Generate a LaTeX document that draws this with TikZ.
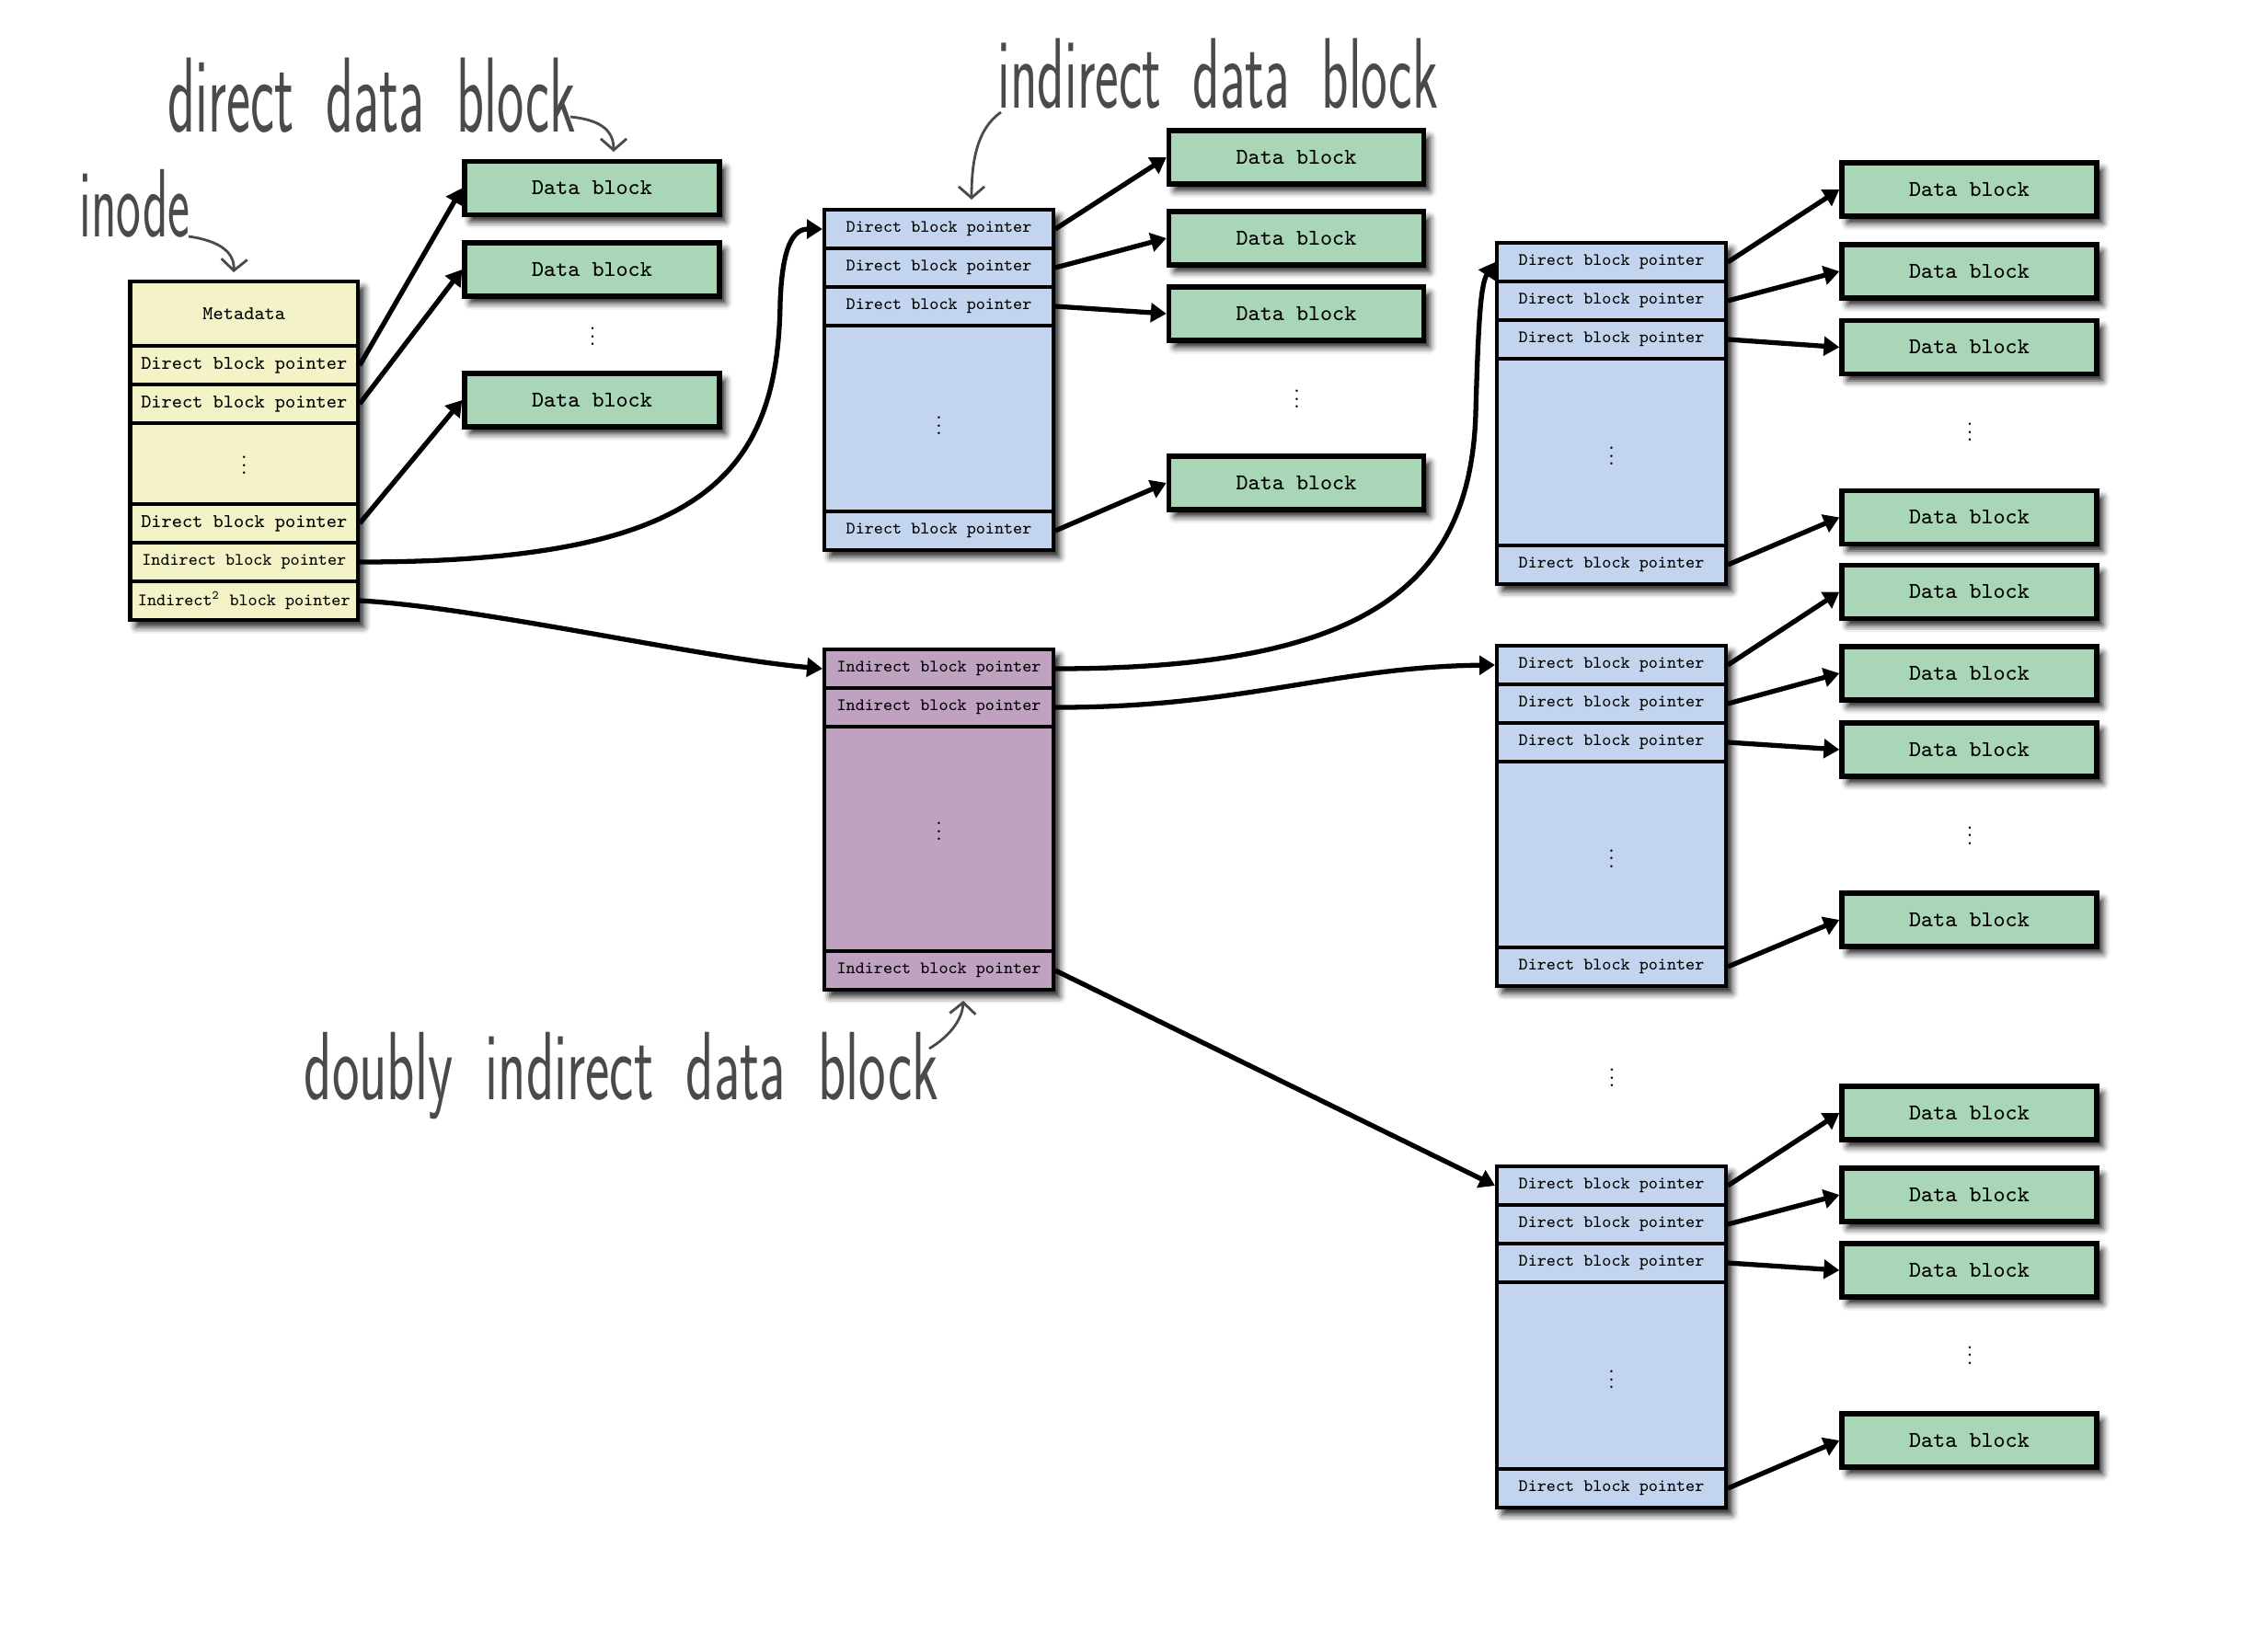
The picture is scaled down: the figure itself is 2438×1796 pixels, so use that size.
\documentclass[tikz,border=0pt]{standalone}
\usetikzlibrary{arrows.meta,shadows.blur}
\definecolor{dgreen}{HTML}{A9D6B6}
\definecolor{iyellow}{HTML}{F3F3C7}
\definecolor{pblue}{HTML}{C3D4EE}
\definecolor{ppurple}{HTML}{BFA2BF}
\definecolor{handgray}{HTML}{4A4A4A}
\newcommand{\mydots}{\vbox{\baselineskip=2.4pt\lineskiplimit=-5pt\hbox{.}\hbox{.}\hbox{.}}}
\newcommand{\ws}{\hspace{0.25em}}
\tikzset{
  shad/.style={blur shadow={shadow xshift=1.8pt, shadow yshift=-2.1pt, shadow blur radius=2.1pt, shadow opacity=90}},
  datab/.style={draw=black, line width=1.5pt, fill=dgreen, minimum width=2.77cm, minimum height=0.58cm, inner sep=0pt, font=\ttfamily\fontsize{7}{8}\selectfont, shad},
  boxbg/.style={draw=black, line width=1.2pt, minimum width=2.49cm, inner sep=0pt, shad},
  cell/.style={draw=black, line width=1.1pt, minimum width=2.49cm, minimum height=0.42cm, inner sep=0pt, font=\ttfamily\fontsize{5.4}{6}\selectfont},
  icell/.style={cell, minimum width=2.474cm},
  big/.style={font=\ttfamily\fontsize{6}{7}\selectfont},
  dotsn/.style={inner sep=0pt, font=\fontsize{6}{7}\selectfont},
  link/.style={line width=1.5pt, -{Triangle[length=4.8pt,width=5.8pt]}},
  note/.style={draw=handgray, line width=0.8pt, -{Straight Barb[length=3.5pt,width=8pt]}},
  hand/.style={anchor=base west, inner sep=0pt, text=handgray, font=\sffamily\fontsize{33}{33}\selectfont},
}
\begin{document}
\begin{tikzpicture}[x=0.01cm, y=-0.01cm]
\useasboundingbox (0,0) rectangle (2438,1796);

% ---------------- inode ----------------
\node[boxbg, fill=iyellow, minimum width=2.474cm, minimum height=3.68cm] (inodebg) at (265.3,490) {};
\node[icell, big, minimum height=0.70cm] (i0) at (265.3,341) {Metadata};
\node[icell, big] (i1) at (265.3,397) {Direct block pointer};
\node[icell, big] (i2) at (265.3,439) {Direct block pointer};
\node[icell, minimum height=0.88cm] (idots) at (265.3,504) {};
\node[dotsn] (idt) at (265.3,506) {\mydots};
\node[icell, big] (i3) at (265.3,569) {Direct block pointer};
\node[icell] (i4) at (265.3,611) {Indirect block pointer};
\node[icell] (i5) at (265.3,653) {Indirect\textsuperscript{2} block pointer};

% direct data blocks
\node[datab] (d1) at (643.5,204.5) {Data block};
\node[datab] (d2) at (643.5,293) {Data block};
\node[dotsn] (dd) at (644,366) {\mydots};
\node[datab] (d3) at (643.5,435) {Data block};

% ---------------- indirect block ----------------
\node[boxbg, fill=pblue, minimum height=3.70cm] (indbg) at (1020.5,413) {};
\node[cell] (n1) at (1020.5,249) {Direct block pointer};
\node[cell] (n2) at (1020.5,291) {Direct block pointer};
\node[cell] (n3) at (1020.5,333) {Direct block pointer};
\node[cell, minimum height=2.02cm] (ndots) at (1020.5,455) {};
\node[dotsn] (ndt) at (1020.5,463) {\mydots};
\node[cell] (n4) at (1020.5,577) {Direct block pointer};

\node[datab] (m1) at (1409,171) {Data block};
\node[datab] (m2) at (1409,259) {Data block};
\node[datab] (m3) at (1409,341) {Data block};
\node[dotsn] (md) at (1409.7,434) {\mydots};
\node[datab] (m4) at (1409,525) {Data block};

% ---------------- doubly indirect block ----------------
\node[boxbg, fill=ppurple, minimum height=3.70cm] (dblbg) at (1020.5,891) {};
\node[cell] (p1) at (1020.5,727) {Indirect block pointer};
\node[cell] (p2) at (1020.5,769) {Indirect block pointer};
\node[cell, minimum height=2.44cm] (pdots) at (1020.5,912) {};
\node[dotsn] (pdt) at (1020.5,904) {\mydots};
\node[cell] (p3) at (1020.5,1055) {Indirect block pointer};

% ---------------- right column blocks ----------------
% box A
\node[boxbg, fill=pblue, minimum height=3.71cm] (abg) at (1751.5,449.5) {};
\node[cell] (a1) at (1751.5,285) {Direct block pointer};
\node[cell] (a2) at (1751.5,327) {Direct block pointer};
\node[cell] (a3) at (1751.5,369) {Direct block pointer};
\node[cell, minimum height=2.03cm] (adots) at (1751.5,491.5) {};
\node[dotsn] (adt) at (1751.5,496) {\mydots};
\node[cell] (a4) at (1751.5,614) {Direct block pointer};
% box B
\node[boxbg, fill=pblue, minimum height=3.70cm] (bbg) at (1751.5,887) {};
\node[cell] (b1) at (1751.5,723) {Direct block pointer};
\node[cell] (b2) at (1751.5,765) {Direct block pointer};
\node[cell] (b3) at (1751.5,807) {Direct block pointer};
\node[cell, minimum height=2.02cm] (bdots) at (1751.5,929) {};
\node[dotsn] (bdt) at (1751.5,933.6) {\mydots};
\node[cell] (b4) at (1751.5,1051) {Direct block pointer};
% between B and C
\node[dotsn] (bcdots) at (1752,1172) {\mydots};
% box C
\node[boxbg, fill=pblue, minimum height=3.71cm] (cbg) at (1751.5,1453.5) {};
\node[cell] (c1) at (1751.5,1289) {Direct block pointer};
\node[cell] (c2) at (1751.5,1331) {Direct block pointer};
\node[cell] (c3) at (1751.5,1373) {Direct block pointer};
\node[cell, minimum height=2.03cm] (cdots) at (1751.5,1495.5) {};
\node[dotsn] (cdt) at (1751.5,1500) {\mydots};
\node[cell] (c4) at (1751.5,1618) {Direct block pointer};

% right data blocks
\node[datab] (ra1) at (2140.5,206) {Data block};
\node[datab] (ra2) at (2140.5,295) {Data block};
\node[datab] (ra3) at (2140.5,377.5) {Data block};
\node[dotsn] (rad) at (2141,470) {\mydots};
\node[datab] (ra4) at (2140.5,562.5) {Data block};

\node[datab] (rb1) at (2140.5,643.5) {Data block};
\node[datab] (rb2) at (2140.5,732) {Data block};
\node[datab] (rb3) at (2140.5,815) {Data block};
\node[dotsn] (rbd) at (2141,908.7) {\mydots};
\node[datab] (rb4) at (2140.5,1000) {Data block};

\node[datab] (rc1) at (2140.5,1210) {Data block};
\node[datab] (rc2) at (2140.5,1299) {Data block};
\node[datab] (rc3) at (2140.5,1381) {Data block};
\node[dotsn] (rcd) at (2141,1473.5) {\mydots};
\node[datab] (rc4) at (2140.5,1566) {Data block};

% ---------------- connectors ----------------
\draw[link] (i1.east) -- (d1.west);
\draw[link] (i2.east) -- (d2.west);
\draw[link] (i3.east) -- (d3.west);
\draw[link] (i4.east) .. controls (760,611) and (845,520) .. (848,330) .. controls (850,268) and (862,249) .. (n1.west);
\draw[link] (i5.east) .. controls (520,660) and (760,715) .. (p1.west);

\draw[link] (n1.east) -- (m1.west);
\draw[link] (n2.east) -- (m2.west);
\draw[link] (n3.east) -- (m3.west);
\draw[link] (n4.east) -- (m4.west);

\draw[link] (p1.east) .. controls (1480,727) and (1598,640) .. (1604,450) .. controls (1607,340) and (1610,308) .. (a1.west);
\draw[link] (p2.east) .. controls (1350,769.5) and (1450,725) .. (b1.west);
\draw[link] (p3.east) -- (c1.west);

\draw[link] (a1.east) -- (ra1.west);
\draw[link] (a2.east) -- (ra2.west);
\draw[link] (a3.east) -- (ra3.west);
\draw[link] (a4.east) -- (ra4.west);
\draw[link] (b1.east) -- (rb1.west);
\draw[link] (b2.east) -- (rb2.west);
\draw[link] (b3.east) -- (rb3.west);
\draw[link] (b4.east) -- (rb4.west);
\draw[link] (c1.east) -- (rc1.west);
\draw[link] (c2.east) -- (rc2.west);
\draw[link] (c3.east) -- (rc3.west);
\draw[link] (c4.east) -- (rc4.west);

% ---------------- handwritten labels ----------------
\node[hand, font=\sffamily\fontsize{30}{30}\selectfont] (linode) at (86,257) {\scalebox{0.54}[1]{inode}};
\node[hand] (ldirect) at (182,143) {\scalebox{0.535}[1]{direct \ws data \ws block}};
\node[hand, font=\sffamily\fontsize{31}{31}\selectfont] (lindirect) at (1084,117) {\scalebox{0.56}[1]{indirect \ws data \ws block}};
\node[hand, font=\sffamily\fontsize{30}{30}\selectfont] (ldoubly) at (330,1195) {\scalebox{0.595}[1]{doubly \ws indirect \ws data \ws block}};

\coordinate (s1) at (205,257);
\coordinate (t1) at (254,296);
\coordinate (s2) at (620,127);
\coordinate (t2) at (667,165);
\coordinate (s3) at (1088,122);
\coordinate (t3) at (1056,217);
\coordinate (s4) at (1010,1140);
\coordinate (t4) at (1047,1088);
\draw[note] (s1) .. controls (240,262) and (255,275) .. (t1);
\draw[note] (s2) .. controls (650,130) and (667,140) .. (t2);
\draw[note] (s3) .. controls (1062,140) and (1056,175) .. (t3);
\draw[note] (s4) .. controls (1030,1128) and (1046,1110) .. (t4);
\end{tikzpicture}
\end{document}
